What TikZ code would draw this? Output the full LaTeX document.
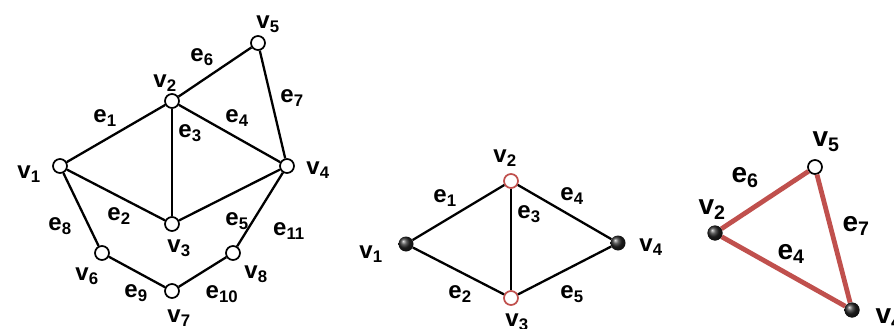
\documentclass[tikz,border=0pt]{standalone}
\usepackage{fontspec}
\setmainfont{Liberation Sans}
\usetikzlibrary{positioning}
\definecolor{edgered}{RGB}{192,80,77}

\tikzset{
  vtx/.style={circle, draw=black, fill=white, line width=1.7pt, minimum size=14pt, inner sep=0pt},
  vred/.style={vtx, draw=edgered},
  vball/.style={circle, ball color=black!85, minimum size=15pt, inner sep=0pt},
  lbl/.style={font=\fontsize{24}{26}\selectfont\bfseries, inner sep=0pt},
  lblbig/.style={font=\fontsize{28}{30}\selectfont\bfseries, inner sep=0pt},
  edge/.style={line width=2.3pt},
  redge/.style={line width=4.8pt, draw=edgered},
}

\begin{document}
\begin{tikzpicture}[x=1pt, y=-1pt]
  \useasboundingbox (0,0) rectangle (894,329);

  % full graph
  \foreach \n/\x/\y in {a1/60/166, a2/172/101, a3/172/224, a4/287/166,
      a5/258/43, a6/102/253, a7/172/291, a8/233/253}
    \node[vtx] (\n) at (\x,\y) {};
  \foreach \p/\q in {a1/a2, a1/a3, a2/a3, a2/a4, a3/a4, a2/a5, a5/a4,
      a1/a6, a6/a7, a7/a8, a8/a4}
    \draw[edge] (\p) -- (\q);
  \foreach \n/\x/\y/\t/\s in {
      la1/29/174/v/1, la2/165/83/v/2, la3/179/248/v/3, la4/318/170/v/4,
      la5/268/24/v/5, la6/87/276/v/6, la7/179/318/v/7, la8/256/274/v/8,
      ea1/105/118/e/1, ea2/119/216/e/2, ea3/190/133/e/3, ea4/237/118/e/4,
      ea5/237/221/e/5, ea6/202/57/e/6, ea7/292/98/e/7, ea8/60/226/e/8,
      ea9/136/293/e/9, ea10/222/294/e/10, ea11/289/231/e/11}
    \node[lbl] (\n) at (\x,\y) {\t\textsubscript{\s}};

  % subgraph on v1..v4
  \node[vball] (b1) at (406,244) {};
  \node[vred] (b2) at (511,181) {};
  \node[vred] (b3) at (511,298) {};
  \node[vball] (b4) at (618,243) {};
  \foreach \p/\q in {b1/b2, b1/b3, b2/b3, b2/b4, b3/b4}
    \draw[edge] (\p) -- (\q);
  \foreach \n/\x/\y/\t/\s in {
      lb1/371/254/v/1, lb2/505/158/v/2, lb3/517/322/v/3, lb4/651/247/v/4,
      eb1/445/198/e/1, eb2/460/294/e/2, eb3/529/214/e/3, eb4/572/196/e/4,
      eb5/572/294/e/5}
    \node[lbl] (\n) at (\x,\y) {\t\textsubscript{\s}};

  % triangle v2 v5 v4
  \node[vball] (c2) at (715,233) {};
  \node[vtx] (c5) at (815,167) {};
  \node[vball] (c4) at (852,310) {};
  \draw[redge] (c2) -- (c5) -- (c4) -- (c2);
  \node[vball] at (c2) {};
  \node[vball] at (c4) {};
  \foreach \n/\x/\y/\t/\s in {
      lc2/712/210/v/2, lc5/826/142/v/5, lc4/889/319/v/4,
      ec6/745/178/e/6, ec7/856/226/e/7, ec4/791/254/e/4}
    \node[lblbig] (\n) at (\x,\y) {\t\textsubscript{\s}};
\end{tikzpicture}
\end{document}
